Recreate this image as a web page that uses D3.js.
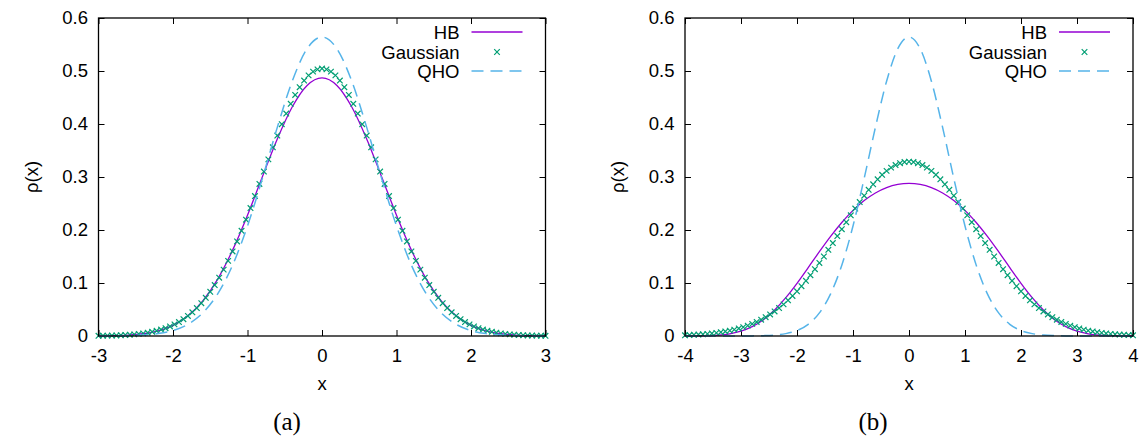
<!DOCTYPE html>
<html>
<head>
<meta charset="utf-8">
<script src="https://cdn.jsdelivr.net/npm/d3@7"></script>
<style>
  body { margin: 0; background: #fff; }
  text { font-family: "Liberation Sans", Arial, sans-serif; fill: #000; }
</style>
</head>
<body>
<script>
// Data // --------------------------------------------------------------------
var legendLabels = ["HB", "Gaussian", "QHO"];
var yTicks = [0, 0.1, 0.2, 0.3, 0.4, 0.5, 0.6];
var xTicksA = [-3, -2, -1, 0, 1, 2, 3];
var xTicksB = [-4, -3, -2, -1, 0, 1, 2, 3, 4];

// panel (a): smooth curves
var xLineA = [-3, -2.8, -2.6, -2.4, -2.2, -2, -1.8, -1.6, -1.4, -1.2, -1, -0.8, -0.6, -0.4, -0.2, 0,
              0.2, 0.4, 0.6, 0.8, 1, 1.2, 1.4, 1.6, 1.8, 2, 2.2, 2.4, 2.6, 2.8, 3];
var hbA = [0.0002, 0.0006, 0.0017, 0.0043, 0.0098, 0.0201, 0.0380, 0.0663, 0.1074, 0.1620, 0.2280,
           0.3005, 0.3717, 0.4321, 0.4727, 0.4870, 0.4727, 0.4321, 0.3717, 0.3005, 0.2280, 0.1620,
           0.1074, 0.0663, 0.0380, 0.0201, 0.0098, 0.0043, 0.0017, 0.0006, 0.0002];
var qhoA = [0.0001, 0.0002, 0.0007, 0.0018, 0.0045, 0.0103, 0.0221, 0.0436, 0.0795, 0.1337, 0.2076,
            0.2975, 0.3936, 0.4808, 0.5421, 0.5642, 0.5421, 0.4808, 0.3936, 0.2975, 0.2076, 0.1337,
            0.0795, 0.0436, 0.0221, 0.0103, 0.0045, 0.0018, 0.0007, 0.0002, 0.0001];

// panel (a): gaussian points
var xGaussA = [-3.00, -2.94, -2.88, -2.82, -2.76, -2.70, -2.64, -2.58, -2.52, -2.46, -2.40, -2.34, -2.28,
               -2.22, -2.16, -2.10, -2.04, -1.98, -1.92, -1.86, -1.80, -1.74, -1.68, -1.62, -1.56, -1.50,
               -1.44, -1.38, -1.32, -1.26, -1.20, -1.14, -1.08, -1.02, -0.96, -0.90, -0.84, -0.78, -0.72,
               -0.66, -0.60, -0.54, -0.48, -0.42, -0.36, -0.30, -0.24, -0.18, -0.12, -0.06, 0,
               0.06, 0.12, 0.18, 0.24, 0.30, 0.36, 0.42, 0.48, 0.54, 0.60, 0.66, 0.72, 0.78, 0.84, 0.90,
               0.96, 1.02, 1.08, 1.14, 1.20, 1.26, 1.32, 1.38, 1.44, 1.50, 1.56, 1.62, 1.68, 1.74, 1.80,
               1.86, 1.92, 1.98, 2.04, 2.10, 2.16, 2.22, 2.28, 2.34, 2.40, 2.46, 2.52, 2.58, 2.64, 2.70,
               2.76, 2.82, 2.88, 2.94, 3.00];
var gaussA = [0.0004, 0.0005, 0.0007, 0.0009, 0.0011, 0.0015, 0.0019, 0.0025, 0.0031, 0.0040, 0.0050,
              0.0063, 0.0079, 0.0098, 0.0121, 0.0148, 0.0181, 0.0219, 0.0264, 0.0317, 0.0378, 0.0448,
              0.0528, 0.0618, 0.0720, 0.0834, 0.0961, 0.1100, 0.1252, 0.1417, 0.1595, 0.1784, 0.1985,
              0.2195, 0.2414, 0.2640, 0.2869, 0.3102, 0.3333, 0.3561, 0.3783, 0.3996, 0.4197, 0.4382,
              0.4549, 0.4695, 0.4819, 0.4917, 0.4988, 0.5031, 0.5046,
              0.5031, 0.4988, 0.4917, 0.4819, 0.4695, 0.4549, 0.4382, 0.4197, 0.3996, 0.3783, 0.3561,
              0.3333, 0.3102, 0.2869, 0.2640, 0.2414, 0.2195, 0.1985, 0.1784, 0.1595, 0.1417, 0.1252,
              0.1100, 0.0961, 0.0834, 0.0720, 0.0618, 0.0528, 0.0448, 0.0378, 0.0317, 0.0264, 0.0219,
              0.0181, 0.0148, 0.0121, 0.0098, 0.0079, 0.0063, 0.0050, 0.0040, 0.0031, 0.0025, 0.0019,
              0.0015, 0.0011, 0.0009, 0.0007, 0.0005, 0.0004];

// panel (b): smooth curves
var xLineB = [-4, -3.8, -3.6, -3.4, -3.2, -3, -2.8, -2.6, -2.4, -2.2, -2, -1.8, -1.6, -1.4, -1.2, -1,
              -0.8, -0.6, -0.4, -0.2, 0, 0.2, 0.4, 0.6, 0.8, 1, 1.2, 1.4, 1.6, 1.8, 2, 2.2, 2.4, 2.6,
              2.8, 3, 3.2, 3.4, 3.6, 3.8, 4];
var hbB = [0.0000, 0.0002, 0.0006, 0.0017, 0.0042, 0.0091, 0.0176, 0.0307, 0.0490, 0.0723, 0.0994,
           0.1290, 0.1591, 0.1880, 0.2142, 0.2370, 0.2556, 0.2699, 0.2800, 0.2860, 0.2880,
           0.2860, 0.2800, 0.2699, 0.2556, 0.2370, 0.2142, 0.1880, 0.1591, 0.1290, 0.0994,
           0.0723, 0.0490, 0.0307, 0.0176, 0.0091, 0.0042, 0.0017, 0.0006, 0.0002, 0.0000];
var qhoB = [0.0000, 0.0000, 0.0000, 0.0000, 0.0000, 0.0001, 0.0002, 0.0007, 0.0018, 0.0045, 0.0103,
            0.0221, 0.0436, 0.0795, 0.1337, 0.2076, 0.2975, 0.3936, 0.4808, 0.5421, 0.5642,
            0.5421, 0.4808, 0.3936, 0.2975, 0.2076, 0.1337, 0.0795, 0.0436, 0.0221, 0.0103,
            0.0045, 0.0018, 0.0007, 0.0002, 0.0001, 0.0000, 0.0000, 0.0000, 0.0000, 0.0000];

// panel (b): gaussian points
var xGaussB = [-4.00, -3.92, -3.84, -3.76, -3.68, -3.60, -3.52, -3.44, -3.36, -3.28, -3.20, -3.12, -3.04,
               -2.96, -2.88, -2.80, -2.72, -2.64, -2.56, -2.48, -2.40, -2.32, -2.24, -2.16, -2.08, -2.00,
               -1.92, -1.84, -1.76, -1.68, -1.60, -1.52, -1.44, -1.36, -1.28, -1.20, -1.12, -1.04, -0.96,
               -0.88, -0.80, -0.72, -0.64, -0.56, -0.48, -0.40, -0.32, -0.24, -0.16, -0.08, 0,
               0.08, 0.16, 0.24, 0.32, 0.40, 0.48, 0.56, 0.64, 0.72, 0.80, 0.88, 0.96, 1.04, 1.12, 1.20,
               1.28, 1.36, 1.44, 1.52, 1.60, 1.68, 1.76, 1.84, 1.92, 2.00, 2.08, 2.16, 2.24, 2.32, 2.40,
               2.48, 2.56, 2.64, 2.72, 2.80, 2.88, 2.96, 3.04, 3.12, 3.20, 3.28, 3.36, 3.44, 3.52, 3.60,
               3.68, 3.76, 3.84, 3.92, 4.00];
var gaussB = [0.0014, 0.0018, 0.0022, 0.0027, 0.0033, 0.0040, 0.0049, 0.0059, 0.0071, 0.0085, 0.0101,
              0.0120, 0.0142, 0.0167, 0.0196, 0.0229, 0.0266, 0.0308, 0.0354, 0.0406, 0.0464, 0.0528,
              0.0597, 0.0673, 0.0756, 0.0844, 0.0939, 0.1041, 0.1148, 0.1260, 0.1378, 0.1500, 0.1626,
              0.1754, 0.1885, 0.2016, 0.2148, 0.2278, 0.2405, 0.2528, 0.2647, 0.2758, 0.2862, 0.2957,
              0.3042, 0.3116, 0.3177, 0.3226, 0.3261, 0.3283, 0.3290,
              0.3283, 0.3261, 0.3226, 0.3177, 0.3116, 0.3042, 0.2957, 0.2862, 0.2758, 0.2647, 0.2528,
              0.2405, 0.2278, 0.2148, 0.2016, 0.1885, 0.1754, 0.1626, 0.1500, 0.1378, 0.1260, 0.1148,
              0.1041, 0.0939, 0.0844, 0.0756, 0.0673, 0.0597, 0.0528, 0.0464, 0.0406, 0.0354, 0.0308,
              0.0266, 0.0229, 0.0196, 0.0167, 0.0142, 0.0120, 0.0101, 0.0085, 0.0071, 0.0059, 0.0049,
              0.0040, 0.0033, 0.0027, 0.0022, 0.0018, 0.0014];

// Layout // ------------------------------------------------------------------
var colors = {hb: "#9400d3", gauss: "#009e73", qho: "#56b4e9"};
var fontSize = 18.5;

var svg = d3.select("body")
            .append("svg")
            .attr("width", 1141)
            .attr("height", 437);

function zipXY(xs, ys) {
    return xs.map(function(d, i) { return {x: d, y: ys[i]}; });
}

function drawPanel(p) {
    var x = d3.scaleLinear().domain([p.xTicks[0], p.xTicks[p.xTicks.length - 1]]).range([p.left, p.right]),
        y = d3.scaleLinear().domain([0, 0.6]).range([p.bottom, p.top]);

    var g = svg.append("g");

    // inward ticks on all four sides (gnuplot style)
    var fmt = function(d) { return String(d); };
    var axes = [
        {ax: d3.axisBottom(x).tickValues(p.xTicks).tickFormat(fmt).tickSize(-6).tickPadding(12.5), t: "translate(0," + p.bottom + ")"},
        {ax: d3.axisTop(x).tickValues(p.xTicks).tickFormat("").tickSize(-6), t: "translate(0," + p.top + ")"},
        {ax: d3.axisLeft(y).tickValues(yTicks).tickFormat(d3.format("~g")).tickSize(-6).tickPadding(10.5), t: "translate(" + p.left + ",0)"},
        {ax: d3.axisRight(y).tickValues(yTicks).tickFormat("").tickSize(-6), t: "translate(" + p.right + ",0)"}
    ];
    axes.forEach(function(a) {
        var ag = g.append("g").attr("transform", a.t).call(a.ax);
        ag.attr("font-size", fontSize).attr("font-family", null);
        ag.select(".domain").remove();
        ag.selectAll(".tick line").attr("stroke", "#000").attr("stroke-width", 1);
    });

    var line = d3.line()
                 .x(function(d) { return x(d.x); })
                 .y(function(d) { return y(d.y); })
                 .curve(d3.curveMonotoneX);

    // HB
    g.append("path")
     .datum(zipXY(p.xLine, p.hb))
     .attr("fill", "none")
     .attr("stroke", colors.hb)
     .attr("stroke-width", 1.3)
     .attr("d", line);

    // Gaussian crosses
    var cross = function(cx, cy, r) {
        return "M" + (cx - r) + "," + (cy - r) + "L" + (cx + r) + "," + (cy + r) +
               "M" + (cx - r) + "," + (cy + r) + "L" + (cx + r) + "," + (cy - r);
    };
    g.append("g").selectAll("path")
     .data(zipXY(p.xGauss, p.gauss))
     .enter().append("path")
     .attr("d", function(d) { return cross(x(d.x), y(d.y), 2.8); })
     .attr("stroke", colors.gauss)
     .attr("stroke-width", 1.2)
     .attr("fill", "none");

    // QHO
    g.append("path")
     .datum(zipXY(p.xLine, p.qho))
     .attr("fill", "none")
     .attr("stroke", colors.qho)
     .attr("stroke-width", 1.5)
     .attr("stroke-dasharray", "12,7")
     .attr("d", line);

    // frame
    g.append("rect")
     .attr("x", p.left).attr("y", p.top)
     .attr("width", p.right - p.left).attr("height", p.bottom - p.top)
     .attr("fill", "none").attr("stroke", "#000").attr("stroke-width", 1.3);

    // legend
    var legY = [32, 52, 71];
    legendLabels.forEach(function(lab, i) {
        g.append("text")
         .attr("x", p.right - 86).attr("y", legY[i])
         .attr("dy", "0.36em")
         .attr("text-anchor", "end")
         .attr("font-size", fontSize)
         .text(lab);
    });
    g.append("line")
     .attr("x1", p.right - 74).attr("x2", p.right - 23)
     .attr("y1", legY[0]).attr("y2", legY[0])
     .attr("stroke", colors.hb).attr("stroke-width", 1.3);
    g.append("path")
     .attr("d", cross(p.right - 48.5, legY[1], 2.8))
     .attr("stroke", colors.gauss).attr("stroke-width", 1.2);
    g.append("line")
     .attr("x1", p.right - 74).attr("x2", p.right - 23)
     .attr("y1", legY[2]).attr("y2", legY[2])
     .attr("stroke", colors.qho).attr("stroke-width", 1.5)
     .attr("stroke-dasharray", "12,7");

    // axis titles
    g.append("text")
     .attr("transform", "translate(" + p.ylabX + "," + ((p.top + p.bottom) / 2) + ") rotate(-90)")
     .attr("text-anchor", "middle")
     .attr("dy", "0.36em")
     .attr("font-size", fontSize)
     .text("ρ(x)");
    g.append("text")
     .attr("x", (p.left + p.right) / 2).attr("y", 390)
     .attr("text-anchor", "middle")
     .attr("font-size", fontSize)
     .text("x");

    // sub caption
    g.append("text")
     .attr("x", p.capX).attr("y", 430)
     .attr("text-anchor", "middle")
     .style("font-family", "'Liberation Serif', serif")
     .attr("font-size", 25)
     .text(p.caption);
}

drawPanel({left: 98.5, right: 545.5, top: 18, bottom: 336, xTicks: xTicksA,
           xLine: xLineA, hb: hbA, qho: qhoA, xGauss: xGaussA, gauss: gaussA,
           ylabX: 31, capX: 287, caption: "(a)"});
drawPanel({left: 685, right: 1133, top: 18, bottom: 336, xTicks: xTicksB,
           xLine: xLineB, hb: hbB, qho: qhoB, xGauss: xGaussB, gauss: gaussB,
           ylabX: 617, capX: 873, caption: "(b)"});
</script>
</body>
</html>
